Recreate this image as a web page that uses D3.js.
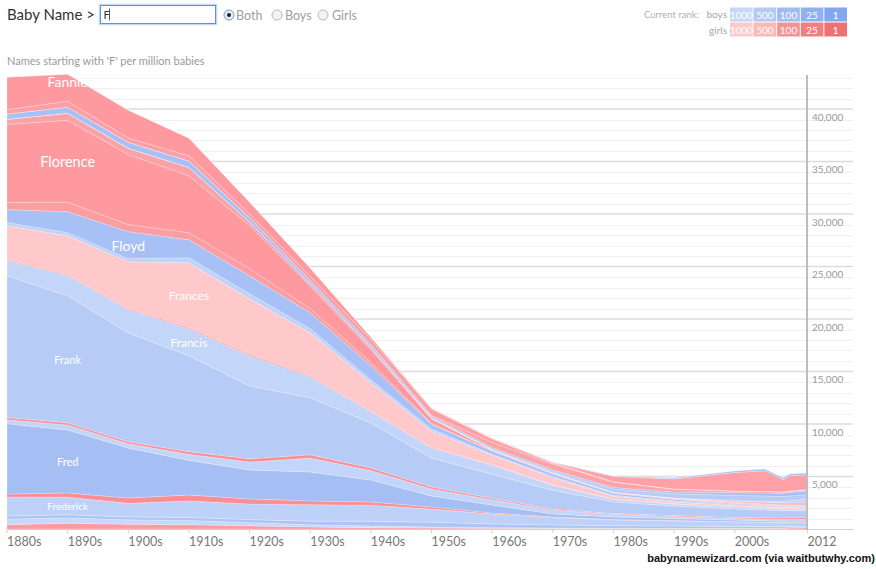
<!DOCTYPE html>
<html><head><meta charset="utf-8">
<script src="https://cdn.jsdelivr.net/npm/d3@7"></script>
<style>body{margin:0;background:#fff}svg{display:block}</style>
</head><body><svg id="c" width="876" height="569"></svg>
<script>
// ---- DATA (per million babies) ----
const years = [1880,1890,1900,1910,1920,1930,1940,1950,1960,1970,1980,1990,2000,2005,2008,2009,2012];

const Frieda    = [400,550,450,400,300,200,130,100,70,50,40,40,40,60,80,90,120];
const Fritz     = [550,500,420,400,300,200,150,100,60,40,30,20,20,20,20,20,20];
const Fredrick  = [300,300,280,300,300,350,450,450,350,300,250,220,180,150,130,130,120];
const Frederick = [1800,1680,1300,1570,1480,1570,1540,1250,940,700,550,500,445,430,400,400,390];
const Freda     = [280,400,500,570,480,350,300,200,100,50,30,20,15,10,10,10,10];
const Fred      = [6700,6000,4760,3300,2760,2760,2100,1050,760,300,250,200,150,120,110,110,100];
const Franklin  = [380,480,400,570,760,1330,900,660,500,350,250,200,150,150,150,150,150];
const Frankie   = [200,200,200,250,300,300,250,200,150,100,80,80,100,120,150,150,180];
const Frank     = [13520,12100,10380,9140,6950,5430,4290,2760,2290,1810,1100,900,800,750,700,700,650];
const Francis   = [1430,1900,2190,2570,2860,2000,1050,950,860,480,230,200,180,170,160,160,150];
const Francesca = [100,100,100,120,120,100,80,60,40,30,20,20,20,20,20,20,20];
const Frances   = [3230,3710,4470,6170,5310,4090,2680,1540,910,670,280,180,130,110,100,100,90];
const Forrest   = [300,300,300,480,480,400,300,200,100,120,100,100,100,100,100,100,100];
const Floyd     = [1240,2000,2570,1710,1710,1520,1330,450,300,250,200,150,100,80,70,70,60];
const Flossie   = [670,900,670,670,670,400,300,100,20,30,20,20,20,20,20,20,20];
const Florence  = [7430,7810,6670,5430,4100,2100,1240,400,80,50,60,50,50,50,50,50,50];
const Flora     = [500,670,600,790,360,260,200,100,30,30,20,20,20,20,20,20,20];
const Fiona     = [0,0,0,0,0,0,0,0,0,0,0,30,150,180,200,200,250];
const Finn      = [0,0,0,0,0,0,0,0,0,0,0,0,30,80,150,200,350];
const Fernando  = [0,0,0,0,0,0,20,50,50,130,300,400,500,500,450,450,420];
const Felix     = [500,570,570,600,400,300,250,150,150,150,150,180,250,300,320,330,370];
const Felicia   = [0,0,0,0,0,0,10,50,500,550,500,250,150,120,100,100,100];
const Fay       = [400,570,400,500,400,400,500,600,320,100,40,30,20,20,20,20,20];
const Fannie    = [3120,2590,2670,1700,1100,800,220,80,30,20,10,10,10,10,10,10,10];
const Faith     = [0,0,0,0,0,0,0,20,50,40,480,940,1740,1950,1150,1460,1390];
const Fabian    = [0,0,0,0,0,0,0,0,10,30,60,100,150,170,170,170,170];

// stacking order: bottom to top
const layerNames = ["Frieda","Fritz","Fredrick","Frederick","Freda","Fred","Franklin","Frankie","Frank",
  "Francis","Francesca","Frances","Forrest","Floyd","Flossie","Florence","Flora","Fiona","Finn",
  "Fernando","Felix","Felicia","Fay","Fannie","Faith","Fabian"];
const layerValues = [Frieda,Fritz,Fredrick,Frederick,Freda,Fred,Franklin,Frankie,Frank,
  Francis,Francesca,Frances,Forrest,Floyd,Flossie,Florence,Flora,Fiona,Finn,
  Fernando,Felix,Felicia,Fay,Fannie,Faith,Fabian];

// labelled names and the year where each label sits
const labelNames = ["Fannie","Florence","Floyd","Frances","Francis","Frank","Fred","Frederick"];
const labelYears = [1890,1890,1900,1910,1910,1890,1890,1890];

const yTicks = [5000,10000,15000,20000,25000,30000,35000,40000];
const xTickYears = [1880,1890,1900,1910,1920,1930,1940,1950,1960,1970,1980,1990,2000,2012];
const xTickLabels = ["1880s","1890s","1900s","1910s","1920s","1930s","1940s","1950s","1960s","1970s","1980s","1990s","2000s","2012"];
const rankLevels = ["1000","500","100","25","1"];

// ---- STYLE ----
const colors = {
  Frieda:"#fb9aa0", Fritz:"#c6d8fb", Fredrick:"#adc5f6", Frederick:"#bed2f9", Freda:"#f98e94",
  Fred:"#a5bff5", Franklin:"#c3d5fa", Frankie:"#f98e94", Frank:"#b7cbf7", Francis:"#c3d6fa",
  Francesca:"#f98e94", Frances:"#ffc9cb", Forrest:"#bfd2f9", Floyd:"#a7c1f6", Flossie:"#fc9da2",
  Florence:"#fe9a9f", Flora:"#fba2a7", Fiona:"#fdb5b8", Finn:"#c0d3f9", Fernando:"#b7cbf7",
  Felix:"#a7c1f6", Felicia:"#fea3a8", Fay:"#fd9fa4", Fannie:"#fe9a9f", Faith:"#fea0a5", Fabian:"#a9c2f6"
};
const labelSizes = {Fannie:14, Florence:14.5, Floyd:14, Frances:12, Francis:12, Frank:11, Fred:11, Frederick:10};
const labelShift = {Fannie:-6};
const boyRankColors  = ["#c6d7fa","#b4c9f7","#a0bbf3","#8fb0f1","#82a7ee"];
const girlRankColors = ["#fccaca","#fbb8b8","#f39393","#ef8080","#ee7272"];

const svg = d3.select("#c");
const font = "Lato, 'Open Sans', sans-serif";

const x = d3.scaleLinear().domain([1880, 2012]).range([7, 807.5]);
const y = d3.scaleLinear().domain([0, 40000]).range([529, 109]);

// table
const rows = years.map((yr, i) => {
  const r = {year: yr};
  layerNames.forEach((n, k) => r[n] = layerValues[k][i]);
  return r;
});
const stacked = d3.stack().keys(layerNames)(rows);

// grid
const gGrid = svg.append("g");
const minor = d3.range(1000, 44000, 1000).filter(v => v % 5000 !== 0);
gGrid.selectAll("line.minor").data(minor).join("line")
  .attr("x1", 7).attr("x2", 853)
  .attr("y1", d => Math.round(y(d)) + 0.5).attr("y2", d => Math.round(y(d)) + 0.5)
  .attr("stroke", "#f0f0f0").attr("stroke-width", 1);
gGrid.selectAll("line.major").data(yTicks).join("line")
  .attr("x1", 7).attr("x2", 853)
  .attr("y1", d => y(d)).attr("y2", d => y(d))
  .attr("stroke", "#dcdcdc").attr("stroke-width", 1.6);

// areas
const area = d3.area()
  .x(d => x(d.data.year))
  .y0(d => y(d[0]))
  .y1(d => y(d[1]));
svg.append("g").selectAll("path").data(stacked).join("path")
  .attr("d", area)
  .attr("fill", d => colors[d.key])
  .attr("stroke", "rgba(255,255,255,0.35)")
  .attr("stroke-width", 0.6);

// x axis baseline and ticks
svg.append("line").attr("x1", 7).attr("x2", 853).attr("y1", 529.5).attr("y2", 529.5)
  .attr("stroke", "#d0d0d0").attr("stroke-width", 1);
const gx = svg.append("g");
gx.selectAll("line").data(xTickYears).join("line")
  .attr("x1", d => x(d)).attr("x2", d => x(d)).attr("y1", 529).attr("y2", 533)
  .attr("stroke", "#cfcfcf");
gx.selectAll("text").data(xTickYears).join("text")
  .attr("x", d => x(d)).attr("y", 546)
  .attr("font-family", font).attr("font-size", 12.5).attr("fill", "#777")
  .text((d, i) => xTickLabels[i]);

// y axis vertical line and labels
svg.append("line").attr("x1", 807).attr("x2", 807).attr("y1", 75).attr("y2", 530)
  .attr("stroke", "#bdbdbd").attr("stroke-width", 2);
svg.append("g").selectAll("text").data(yTicks).join("text")
  .attr("x", 812).attr("y", d => y(d) + 11.5)
  .attr("font-family", font).attr("font-size", 10).attr("fill", "#9a9a9a")
  .text(d => d3.format(",")(d));

// labels in the stream
const gLab = svg.append("g");
labelNames.forEach((n, k) => {
  const layer = stacked.find(s => s.key === n);
  const i = years.indexOf(labelYears[k]);
  const seg = layer[i];
  gLab.append("text")
    .attr("x", x(labelYears[k]))
    .attr("y", (y(seg[0]) + y(seg[1])) / 2 + (labelShift[n] || 0))
    .attr("text-anchor", "middle").attr("dominant-baseline", "central")
    .attr("font-family", font).attr("font-size", labelSizes[n]).attr("fill", "#fff")
    .text(n);
});

// ---- HEADER ----
svg.append("text").attr("x", 7).attr("y", 20).attr("font-family", font).attr("font-size", 15)
  .attr("fill", "#333").text("Baby Name >");
svg.append("rect").attr("x", 100.5).attr("y", 5.5).attr("width", 115).attr("height", 18)
  .attr("fill", "#fff").attr("stroke", "#a9c8f0").attr("stroke-width", 3.5).attr("opacity", 0.7);
svg.append("rect").attr("x", 100.5).attr("y", 5.5).attr("width", 115).attr("height", 18)
  .attr("fill", "#fff").attr("stroke", "#5f92d8").attr("stroke-width", 1);
svg.append("text").attr("x", 103.5).attr("y", 19).attr("font-family", font).attr("font-size", 11)
  .attr("fill", "#333").text("F");
svg.append("line").attr("x1", 109.5).attr("x2", 109.5).attr("y1", 8.5).attr("y2", 20.5)
  .attr("stroke", "#333").attr("stroke-width", 0.8);

const radios = [["Both", 229, 236, true], ["Boys", 277, 285, false], ["Girls", 323, 332, false]];
radios.forEach(([t, cx, tx, on]) => {
  svg.append("circle").attr("cx", cx).attr("cy", 15).attr("r", 5)
    .attr("fill", on ? "#e3ecf9" : "#f3f3f3").attr("stroke", on ? "#7b9cc8" : "#b8b8b8").attr("stroke-width", 1);
  if (on) svg.append("circle").attr("cx", cx).attr("cy", 15).attr("r", 2).attr("fill", "#222");
  svg.append("text").attr("x", tx).attr("y", 19.5).attr("font-family", font).attr("font-size", 12.5)
    .attr("fill", "#a0a0a0").text(t);
});

svg.append("text").attr("x", 7).attr("y", 65).attr("font-family", font).attr("font-size", 11)
  .attr("fill", "#9a9a9a").text("Names starting with 'F' per million babies");

// rank legend
svg.append("text").attr("x", 699).attr("y", 18).attr("text-anchor", "end").attr("font-family", font)
  .attr("font-size", 9.5).attr("fill", "#b0b0b0").text("Current rank:");
svg.append("text").attr("x", 727).attr("y", 18).attr("text-anchor", "end").attr("font-family", font)
  .attr("font-size", 10).attr("fill", "#a8a8a8").text("boys");
svg.append("text").attr("x", 727).attr("y", 34).attr("text-anchor", "end").attr("font-family", font)
  .attr("font-size", 10).attr("fill", "#a8a8a8").text("girls");
const bx = d3.scaleBand().domain(rankLevels).range([730, 847]).paddingInner(0.04);
[[boyRankColors, 7.5], [girlRankColors, 22.5]].forEach(([cols, yy]) => {
  rankLevels.forEach((r, i) => {
    svg.append("rect").attr("x", bx(r)).attr("y", yy).attr("width", bx.bandwidth()).attr("height", 14)
      .attr("fill", cols[i]);
    svg.append("text").attr("x", bx(r) + bx.bandwidth() / 2).attr("y", yy + 11)
      .attr("text-anchor", "middle").attr("font-family", font).attr("font-size", 10)
      .attr("fill", "#fff").text(r);
  });
});

// credit
svg.append("text").attr("x", 875).attr("y", 562).attr("text-anchor", "end")
  .attr("font-family", "'Liberation Sans', Arial, sans-serif").attr("font-weight", "bold")
  .attr("font-size", 11).attr("fill", "#111").text("babynamewizard.com (via waitbutwhy.com)");
</script></body></html>
